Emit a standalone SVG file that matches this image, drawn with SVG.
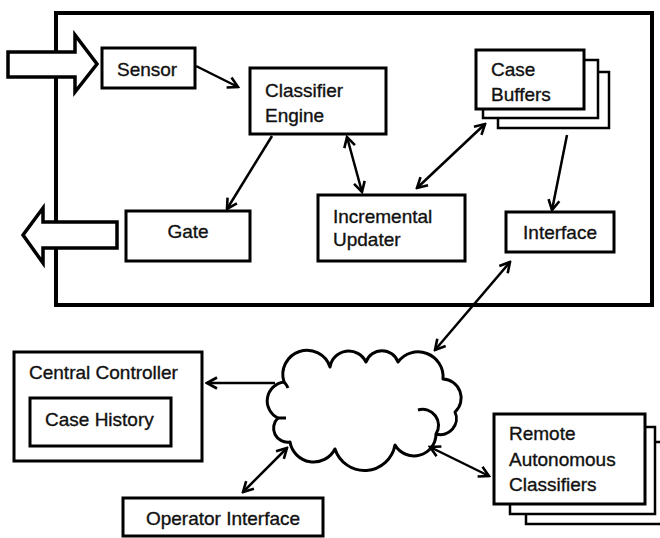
<svg xmlns="http://www.w3.org/2000/svg" width="660" height="538" viewBox="0 0 660 538">
<defs>
<style>
.box{fill:#fff;stroke:#000;stroke-width:3}
.bg{fill:#fff;stroke:#000;stroke-width:2.5}
.t{font-family:"Liberation Sans",Arial,sans-serif;font-size:19px;fill:#111;stroke:#111;stroke-width:0.35}
.c{fill:none;stroke:#000;stroke-width:2.5}
.blk{fill:#fff;stroke:#000;stroke-width:3.5;stroke-linejoin:miter}
</style>
<marker id="ah" viewBox="0 0 14 14" refX="12" refY="7" markerWidth="14" markerHeight="14" markerUnits="userSpaceOnUse" orient="auto-start-reverse">
<path d="M2,1.5 L12,7 L2,12.5" fill="none" stroke="#000" stroke-width="2.6"/>
</marker>
</defs>
<rect width="660" height="538" fill="#fff"/>

<g id="system">
<rect x="56" y="13" width="596" height="292" fill="none" stroke="#000" stroke-width="4"/>
</g>

<g id="input-arrow">
<polygon class="blk" points="8,52 75,52 75,35 97,64 75,92 75,77 8,77"/>
</g>
<g id="output-arrow">
<polygon class="blk" points="117,222 43,222 43,208 23,235 43,263 43,248 117,248"/>
</g>

<g id="sensor">
<rect class="box" x="102" y="48" width="93" height="40"/>
<text class="t" x="117" y="76">Sensor</text>
</g>

<g id="classifier-engine">
<rect class="box" x="250" y="68" width="136" height="66"/>
<text class="t" x="265" y="97">Classifier</text>
<text class="t" x="265" y="122">Engine</text>
</g>

<g id="case-buffers">
<rect class="bg" x="498" y="72" width="111" height="56"/>
<rect class="bg" x="483" y="60" width="115" height="58"/>
<rect class="box" x="476" y="50" width="108" height="59"/>
<text class="t" x="491" y="76">Case</text>
<text class="t" x="491" y="101">Buffers</text>
</g>

<g id="gate">
<rect class="box" x="126" y="211" width="124" height="50"/>
<text class="t" x="188" y="238" text-anchor="middle">Gate</text>
</g>

<g id="incremental-updater">
<rect class="box" x="318" y="195" width="147" height="66"/>
<text class="t" x="333" y="223">Incremental</text>
<text class="t" x="333" y="246">Updater</text>
</g>

<g id="interface">
<rect class="box" x="506" y="212" width="108" height="40"/>
<text class="t" x="560" y="239" text-anchor="middle">Interface</text>
</g>

<g id="network">
<path fill="#fff" stroke="#000" stroke-width="3" stroke-linejoin="round" d="M284,382 A24,24 0 0 1 330,367 A19,19 0 0 1 366,362 A17,17 0 0 1 398,362 A25,25 0 0 1 443,379 A19,19 0 0 1 455,412 A16,16 0 0 1 436,434 A22,22 0 0 1 395,445 A31,31 0 0 1 335,449 A24,24 0 0 1 290,442 A14,14 0 0 1 278,418 A19,19 0 0 1 284,382 Z"/>
<path fill="none" stroke="#000" stroke-width="3" d="M418,410 A16,16 0 0 1 436,434 M278,418 L286,418 M284,382 A19,19 0 0 1 288,388"/>
</g>

<g id="central-controller">
<rect class="box" x="14" y="352" width="188" height="109"/>
<text class="t" x="29" y="379">Central Controller</text>
</g>
<g id="case-history">
<rect class="box" x="30" y="398" width="141" height="48"/>
<text class="t" x="45" y="426">Case History</text>
</g>

<g id="operator-interface">
<rect class="box" x="123" y="498" width="200" height="38"/>
<text class="t" x="223" y="525" text-anchor="middle">Operator Interface</text>
</g>

<g id="remote-classifiers">
<rect class="bg" x="526" y="442" width="142" height="82"/>
<rect class="bg" x="510" y="427" width="145" height="87"/>
<rect class="box" x="494" y="414" width="151" height="90"/>
<text class="t" x="509" y="440">Remote</text>
<text class="t" x="509" y="466">Autonomous</text>
<text class="t" x="509" y="491">Classifiers</text>
</g>

<g id="connectors">
<line class="c" x1="196" y1="66" x2="238" y2="87" marker-end="url(#ah)"/>
<line class="c" x1="272" y1="136" x2="227" y2="209" marker-end="url(#ah)"/>
<line class="c" x1="347" y1="137" x2="362" y2="192" marker-start="url(#ah)" marker-end="url(#ah)"/>
<line class="c" x1="417" y1="188" x2="485" y2="124" marker-start="url(#ah)" marker-end="url(#ah)"/>
<line class="c" x1="567" y1="135" x2="552" y2="210" marker-end="url(#ah)"/>
<line class="c" x1="510" y1="262" x2="435" y2="350" marker-start="url(#ah)" marker-end="url(#ah)"/>
<line class="c" x1="275" y1="383" x2="207" y2="383" marker-end="url(#ah)"/>
<line class="c" x1="287" y1="448" x2="243" y2="492" marker-start="url(#ah)" marker-end="url(#ah)"/>
<line class="c" x1="430" y1="447" x2="489" y2="476" marker-start="url(#ah)" marker-end="url(#ah)"/>
</g>
</svg>
